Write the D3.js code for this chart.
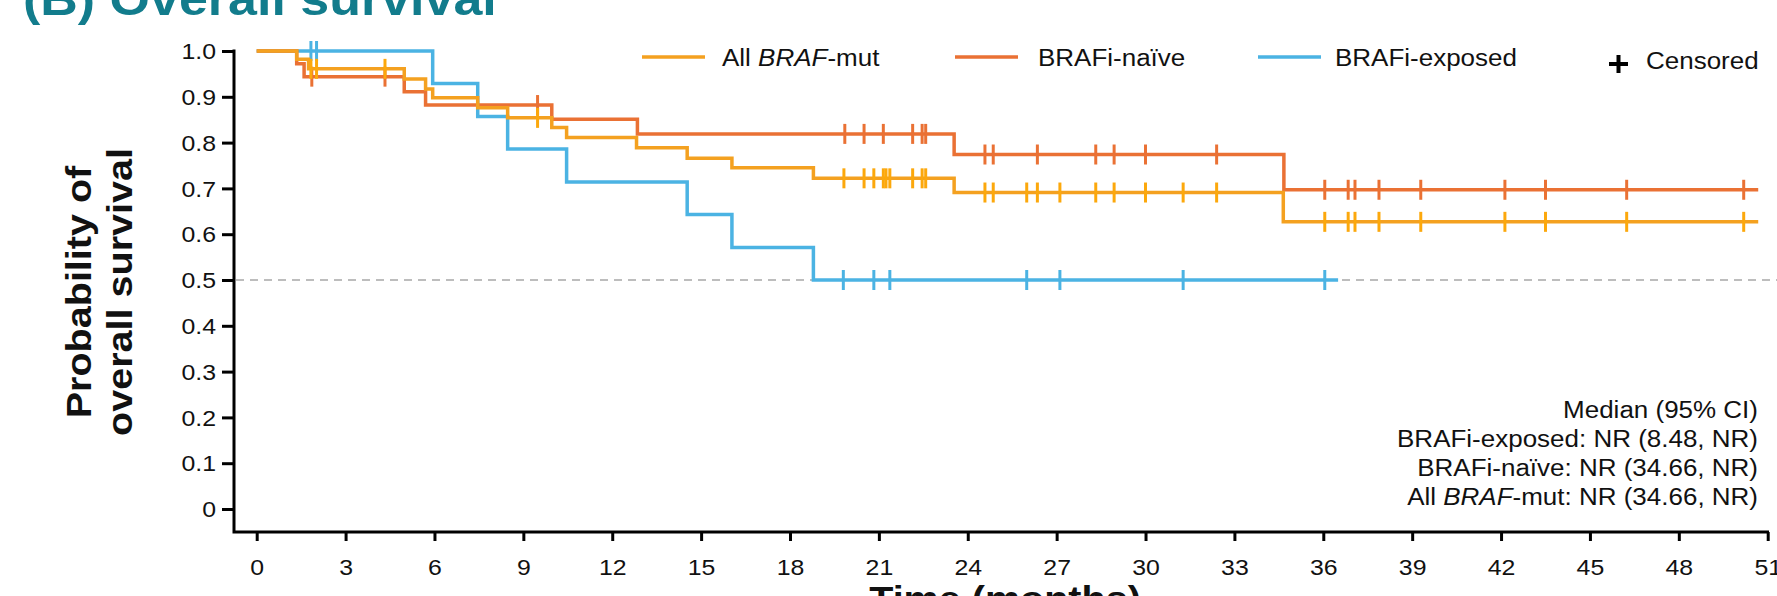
<!DOCTYPE html>
<html>
<head>
<meta charset="utf-8">
<script src="https://cdn.jsdelivr.net/npm/d3@7"></script>
<style>
    body { margin: 0; background: #fff; }
    svg { display: block; font-family: 'Liberation Sans', Arial, sans-serif; }
</style>
</head>
<body>
<svg id="chart" width="1777" height="596"></svg>
<script>
// values (months / survival probability)
const xTicks = [0, 3, 6, 9, 12, 15, 18, 21, 24, 27, 30, 33, 36, 39, 42, 45, 48, 51];
const yTicks = [0, 0.1, 0.2, 0.3, 0.4, 0.5, 0.6, 0.7, 0.8, 0.9, 1.0];

const allTimes = [0, 1.35, 1.75, 4.98, 5.70, 5.94, 7.46, 8.47, 9.96, 10.46, 12.82, 14.53, 16.04, 18.79, 23.54, 34.65];
const allSurv = [1.0, 0.982, 0.961, 0.939, 0.917, 0.898, 0.876, 0.854, 0.833, 0.811, 0.789, 0.766, 0.745, 0.722, 0.691, 0.627];
const allEnd = 50.68;
const allCensor = [1.83, 2.02, 4.33, 9.48, 19.82, 20.50, 20.83, 21.15, 21.24, 21.37, 22.14, 22.46, 22.58, 24.58, 24.86, 25.99, 26.35, 27.11, 28.32, 28.94, 30.00, 31.27, 32.40, 36.05, 36.84, 37.07, 37.88, 39.29, 42.13, 43.50, 46.24, 50.19];

const naiveTimes = [0, 1.35, 1.6, 4.98, 5.70, 9.96, 12.85, 23.54, 34.67];
const naiveSurv = [1.0, 0.972, 0.944, 0.911, 0.882, 0.851, 0.819, 0.774, 0.697];
const naiveEnd = 50.68;
const naiveCensor = [1.86, 4.33, 9.48, 19.85, 20.50, 21.15, 22.14, 22.46, 22.58, 24.58, 24.86, 26.35, 28.32, 28.94, 30.00, 32.40, 36.05, 36.84, 37.07, 37.88, 39.29, 42.13, 43.50, 46.24, 50.19];

const exposedTimes = [0, 5.94, 7.46, 8.47, 10.46, 14.53, 16.04, 18.79];
const exposedSurv = [1.0, 0.929, 0.857, 0.786, 0.714, 0.643, 0.571, 0.5];
const exposedEnd = 36.5;
const exposedCensor = [1.83, 2.02, 19.80, 20.83, 21.37, 25.99, 27.11, 31.27, 36.05];

const medianLines = ['Median (95% CI)', 'BRAFi-exposed: NR (8.48, NR)', 'BRAFi-naïve: NR (34.66, NR)', 'All BRAF-mut: NR (34.66, NR)'];

const sx = 1.13; // text in the source is drawn wide
const colAll = '#F4A120';
const colAllMark = '#FCA80C';
const colNaive = '#EA7134';
const colExposed = '#4BB3E3';

const svg = d3.select('#chart');

const xScale = d3.scaleLinear().domain([0, 51]).range([256.7, 1767.7]);
const yScale = d3.scaleLinear().domain([0, 1]).range([509, 51]);

function wideText(g, x, y, str, size, anchor) {
    return g.append('text')
        .attr('transform', 'translate(' + x + ',' + y + ') scale(' + sx + ',1)')
        .attr('font-size', size)
        .attr('text-anchor', anchor || 'start')
        .attr('fill', '#111')
        .text(str);
}

// title (cut off at top)
wideText(svg, 23, 15, '(B) Overall survival', 46, 'start')
    .attr('font-weight', 'bold')
    .attr('fill', '#127C8C');

// reference line at 0.5
svg.append('line')
    .attr('x1', 236).attr('x2', 1777)
    .attr('y1', yScale(0.5)).attr('y2', yScale(0.5))
    .attr('stroke', '#bdbdbd')
    .attr('stroke-width', 2)
    .style('stroke-dasharray', '8,6');

// axes
const yAxis = d3.axisLeft(yScale)
    .tickValues(yTicks)
    .tickSize(12)
    .tickSizeOuter(0)
    .tickPadding(6)
    .tickFormat(d => (d === 0 ? '0' : d.toFixed(1)));

const gY = svg.append('g')
    .attr('transform', 'translate(234,0)')
    .call(yAxis);

const xAxis = d3.axisBottom(xScale)
    .tickValues(xTicks)
    .tickSize(9)
    .tickSizeOuter(0)
    .tickFormat(d => d);

const gX = svg.append('g')
    .attr('transform', 'translate(0,532)')
    .call(xAxis);

[gX, gY].forEach(g => {
    g.select('.domain').remove();
    g.selectAll('.tick line').attr('stroke', '#000').attr('stroke-width', 3);
    g.selectAll('.tick text')
        .attr('font-size', 22)
        .attr('font-family', "'Liberation Sans', Arial, sans-serif")
        .attr('fill', '#111');
});

gY.selectAll('.tick text').each(function() {
    const t = d3.select(this);
    t.attr('x', +t.attr('x') / sx).attr('dy', '0.35em').attr('transform', 'scale(' + sx + ',1)');
});
gX.selectAll('.tick text').each(function() {
    d3.select(this).attr('y', 43).attr('dy', 0).attr('transform', 'scale(' + sx + ',1)')
        .attr('x', 0);
});

svg.append('path')
    .attr('d', 'M234,49.5V532H1769')
    .attr('fill', 'none')
    .attr('stroke', '#000')
    .attr('stroke-width', 3);

// axis titles
const yTitle = svg.append('g').attr('font-weight', 'bold');
[['Probability of', 91], ['overall survival', 132]].forEach(d => {
    yTitle.append('text')
        .attr('transform', 'translate(' + d[1] + ',292) rotate(-90) scale(' + sx + ',1)')
        .attr('font-size', 35)
        .attr('text-anchor', 'middle')
        .attr('fill', '#111')
        .text(d[0]);
});

wideText(svg, 1005, 611, 'Time (months)', 35, 'middle').attr('font-weight', 'bold');

// survival curves
const stepLine = d3.line()
    .x(d => xScale(d[0]))
    .y(d => yScale(d[1]))
    .curve(d3.curveStepAfter);

function survAt(times, surv, t) {
    let s = surv[0];
    for (let i = 0; i < times.length; i++) {
        if (times[i] <= t) s = surv[i];
    }
    return s;
}

const groups = [
    { times: exposedTimes, surv: exposedSurv, end: exposedEnd, censor: exposedCensor, color: colExposed, mark: colExposed },
    { times: naiveTimes, surv: naiveSurv, end: naiveEnd, censor: naiveCensor, color: colNaive, mark: colNaive },
    { times: allTimes, surv: allSurv, end: allEnd, censor: allCensor, color: colAll, mark: colAllMark },
];

groups.forEach(gr => {
    const pts = gr.times.map((t, i) => [t, gr.surv[i]]);
    pts.push([gr.end, gr.surv[gr.surv.length - 1]]);

    svg.append('path')
        .datum(pts)
        .attr('d', stepLine)
        .attr('fill', 'none')
        .attr('stroke', gr.color)
        .attr('stroke-width', 3.5);

    svg.selectAll(null)
        .data(gr.censor)
        .enter()
        .append('line')
        .attr('x1', d => xScale(d))
        .attr('x2', d => xScale(d))
        .attr('y1', d => yScale(survAt(gr.times, gr.surv, d)) - 10)
        .attr('y2', d => yScale(survAt(gr.times, gr.surv, d)) + 10)
        .attr('stroke', gr.mark)
        .attr('stroke-width', 3);
});

// legend
const legend = [
    { label: ['All ', 'BRAF', '-mut'], color: colAll, x1: 642, x2: 705, tx: 722 },
    { label: ['BRAFi-naïve'], color: colNaive, x1: 955, x2: 1018, tx: 1038 },
    { label: ['BRAFi-exposed'], color: colExposed, x1: 1258, x2: 1321, tx: 1335 },
];

legend.forEach(l => {
    svg.append('line')
        .attr('x1', l.x1).attr('x2', l.x2)
        .attr('y1', 57).attr('y2', 57)
        .attr('stroke', l.color)
        .attr('stroke-width', 3.5);
    const t = wideText(svg, l.tx, 66, '', 23);
    l.label.forEach((s, i) => {
        t.append('tspan')
            .attr('font-style', s === 'BRAF' ? 'italic' : 'normal')
            .text(s);
    });
});

svg.append('path')
    .attr('d', 'M1609,64h19M1618.5,55v18')
    .attr('stroke', '#000')
    .attr('stroke-width', 4);
wideText(svg, 1646, 69, 'Censored', 23);

// median annotation
medianLines.forEach((s, i) => {
    const t = wideText(svg, 1758, 418 + i * 29, '', 23, 'end');
    if (s.indexOf('BRAF-mut') >= 0) {
        t.append('tspan').text('All ');
        t.append('tspan').attr('font-style', 'italic').text('BRAF');
        t.append('tspan').text('-mut: NR (34.66, NR)');
    } else {
        t.text(s);
    }
});
</script>
</body>
</html>
